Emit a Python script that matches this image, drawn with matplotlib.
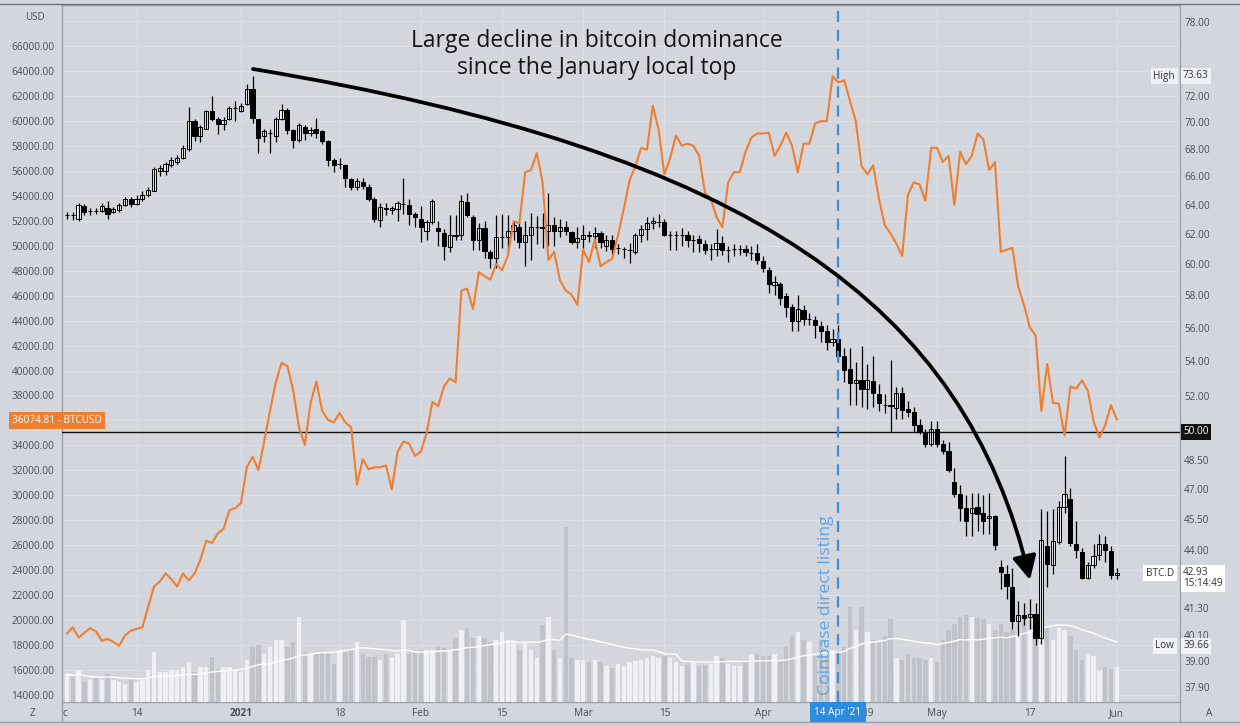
import numpy as np
import pandas as pd
import matplotlib
matplotlib.use("Agg")
import matplotlib.pyplot as plt
import matplotlib.dates as mdates
from matplotlib.path import Path
from matplotlib.patches import FancyArrowPatch
from matplotlib.lines import Line2D
from matplotlib.ticker import NullLocator

plt.rcParams['font.family'] = ['Open Sans', 'DejaVu Sans']

# daily candles 2 Dec 2020 .. 1 Jun 2021
dates = pd.date_range('2020-12-02', '2021-06-01', freq='D')

# BTC.D (bitcoin dominance, %) daily candles
btcd_open = [
    63.28, 63.30, 63.00, 63.91, 63.55, 63.56, 63.56, 63.79, 63.50, 63.62,
    63.99, 64.41, 64.07, 64.36, 64.70, 64.99, 66.38, 66.38, 66.80, 67.04,
    67.33, 67.99, 70.07, 68.99, 69.51, 70.84, 70.22, 69.82, 70.22, 71.10,
    70.84, 71.39, 72.53, 70.22, 68.93, 69.20, 68.99, 70.22, 70.94, 69.39,
    68.68, 69.60, 69.20, 69.45, 69.30, 68.59, 67.19, 66.92, 66.80, 65.79,
    65.21, 65.62, 65.27, 64.41, 62.95, 63.74, 63.62, 63.68, 64.07, 63.99,
    63.34, 63.00, 62.22, 62.78, 62.39, 62.03, 61.13, 61.90, 61.90, 64.19,
    63.14, 61.57, 62.39, 60.81, 60.40, 61.76, 61.76, 62.22, 62.50, 61.49,
    61.90, 62.44, 62.50, 62.22, 62.58, 62.17, 62.44, 62.12, 61.49, 61.68,
    61.90, 61.84, 62.03, 61.21, 61.62, 61.07, 61.02, 60.94, 60.81, 61.90,
    62.31, 62.72, 62.81, 62.78, 61.90, 61.95, 61.95, 61.90, 61.57, 61.68,
    61.35, 61.02, 61.02, 61.40, 60.94, 61.02, 61.02, 61.02, 60.75, 60.75,
    60.21, 59.60, 58.64, 58.69, 57.96, 57.27, 56.39, 57.10, 56.52, 56.47,
    56.09, 55.77, 55.16, 55.33, 54.31, 53.54, 52.72, 52.88, 52.41, 52.84,
    52.11, 51.49, 51.49, 51.33, 52.18, 51.27, 51.11, 50.37, 50.03, 49.33,
    50.14, 49.33, 48.98, 47.34, 46.77, 46.03, 45.78, 46.10, 45.78, 45.54,
    45.63, 43.17, 42.88, 42.28, 40.72, 40.99, 40.90, 41.02, 40.00, 44.16,
    43.26, 44.39, 46.10, 46.50, 44.29, 43.90, 42.69, 43.26, 43.77, 44.29,
    43.96, 42.81,
]
btcd_high = [
    63.50, 63.50, 64.13, 64.07, 63.79, 63.75, 64.13, 64.27, 63.85, 64.13,
    64.56, 64.56, 64.70, 64.93, 65.27, 66.68, 66.80, 67.04, 67.39, 67.57,
    68.29, 71.16, 70.22, 69.76, 70.94, 72.00, 70.38, 70.38, 71.26, 71.64,
    71.48, 72.92, 73.63, 70.25, 69.45, 69.45, 70.38, 71.39, 71.07, 69.45,
    69.91, 69.76, 69.60, 70.32, 69.39, 68.68, 67.33, 67.33, 66.89, 65.85,
    65.85, 65.85, 65.42, 64.56, 64.13, 64.13, 63.91, 64.27, 65.91, 64.41,
    63.50, 63.91, 62.95, 64.41, 62.86, 62.31, 63.28, 63.28, 64.70, 64.85,
    63.28, 62.72, 62.86, 60.94, 63.28, 63.34, 63.28, 62.86, 62.86, 62.86,
    63.42, 63.22, 63.42, 64.85, 63.14, 63.00, 62.86, 62.17, 62.44, 62.58,
    62.17, 62.50, 62.22, 61.90, 61.90, 61.35, 61.15, 61.40, 62.03, 62.58,
    63.14, 63.14, 63.34, 63.00, 62.22, 62.17, 62.39, 62.17, 61.90, 61.90,
    61.62, 61.35, 62.31, 61.84, 61.21, 61.35, 61.29, 61.29, 61.21, 61.35,
    60.54, 59.79, 59.21, 58.82, 58.17, 57.45, 58.04, 57.40, 56.89, 56.70,
    56.39, 56.19, 55.89, 56.14, 54.79, 54.79, 53.95, 54.91, 53.83, 54.31,
    52.65, 52.11, 54.07, 52.53, 52.53, 51.72, 51.38, 50.70, 50.14, 50.59,
    50.59, 49.59, 49.48, 48.07, 47.23, 46.71, 46.81, 46.81, 46.71, 46.81,
    45.69, 43.51, 43.26, 43.13, 41.62, 41.53, 41.72, 41.53, 45.99, 45.89,
    45.99, 46.40, 48.72, 47.06, 45.38, 44.10, 43.42, 44.29, 44.74, 44.68,
    44.19, 43.13,
]
btcd_low = [
    63.00, 62.95, 62.86, 63.28, 63.28, 63.35, 63.50, 63.00, 63.42, 63.50,
    63.91, 63.85, 63.99, 64.27, 64.56, 64.93, 66.00, 66.09, 66.68, 66.89,
    67.27, 67.87, 68.59, 68.53, 69.45, 70.07, 69.14, 69.39, 70.13, 70.07,
    70.75, 71.32, 69.91, 67.69, 68.53, 67.69, 68.53, 70.13, 69.14, 68.08,
    68.53, 68.68, 68.99, 68.83, 68.38, 66.74, 66.30, 66.50, 65.21, 65.05,
    65.05, 65.12, 64.27, 62.78, 62.50, 63.28, 63.34, 62.86, 63.34, 62.58,
    62.44, 61.49, 61.62, 62.70, 61.21, 60.27, 60.81, 61.62, 61.62, 63.14,
    60.94, 60.94, 60.40, 59.74, 59.74, 61.07, 60.81, 61.62, 61.07, 59.87,
    60.27, 61.35, 61.07, 61.21, 61.21, 61.76, 61.90, 61.35, 61.07, 61.07,
    61.49, 61.07, 61.07, 60.86, 60.67, 60.67, 60.40, 60.05, 60.67, 61.49,
    61.62, 62.31, 62.44, 61.84, 60.94, 60.94, 61.21, 61.13, 60.81, 60.81,
    60.67, 60.27, 60.54, 60.59, 60.13, 60.54, 60.59, 60.54, 60.27, 60.00,
    59.47, 58.17, 58.04, 57.40, 56.65, 55.77, 55.77, 56.14, 56.14, 55.40,
    55.16, 54.67, 54.91, 53.95, 52.77, 51.49, 51.49, 51.38, 51.27, 51.38,
    51.15, 51.04, 50.03, 50.70, 50.70, 50.82, 50.03, 49.92, 49.20, 49.26,
    49.20, 48.82, 47.87, 46.61, 45.38, 44.68, 44.68, 44.89, 44.78, 44.78,
    44.00, 42.18, 41.72, 40.36, 40.09, 40.54, 40.36, 39.66, 39.73, 42.28,
    42.84, 44.29, 45.78, 44.19, 43.61, 42.65, 42.65, 43.13, 43.51, 43.42,
    42.62, 42.65,
]
btcd_close = [
    63.30, 63.28, 63.99, 63.50, 63.56, 63.55, 63.91, 63.34, 63.70, 63.99,
    64.36, 64.07, 64.41, 64.70, 65.05, 66.50, 66.62, 66.86, 67.19, 67.33,
    68.05, 70.07, 68.99, 69.60, 70.84, 70.22, 69.82, 70.16, 71.07, 71.10,
    71.26, 72.53, 70.29, 68.83, 69.30, 69.20, 70.22, 70.94, 69.39, 68.68,
    69.76, 69.20, 69.39, 69.20, 68.59, 67.19, 66.80, 66.92, 65.85, 65.27,
    65.68, 65.33, 64.41, 63.00, 63.85, 63.70, 63.79, 64.13, 64.07, 63.34,
    63.14, 62.44, 62.78, 64.27, 62.17, 61.21, 61.90, 61.84, 64.27, 63.28,
    61.62, 62.39, 60.86, 60.40, 61.76, 61.76, 62.22, 62.58, 61.49, 61.95,
    62.44, 62.44, 62.39, 62.58, 62.17, 62.44, 62.22, 61.49, 61.71, 61.90,
    61.84, 62.03, 61.49, 61.62, 61.02, 61.07, 61.02, 60.94, 61.90, 62.31,
    62.72, 62.86, 62.81, 61.95, 61.90, 61.95, 61.95, 61.57, 61.57, 61.40,
    60.94, 61.02, 61.40, 60.94, 60.94, 61.02, 61.02, 60.81, 60.75, 60.27,
    59.74, 58.69, 58.82, 57.86, 57.27, 56.39, 57.15, 56.52, 56.52, 56.14,
    55.77, 55.16, 55.33, 54.31, 53.47, 52.72, 52.93, 52.41, 52.88, 52.18,
    51.60, 51.47, 51.42, 52.18, 51.22, 51.11, 50.37, 50.03, 49.33, 50.14,
    49.33, 48.98, 47.97, 46.77, 46.03, 45.42, 46.03, 45.75, 45.38, 45.63,
    44.23, 42.94, 42.31, 40.72, 40.99, 40.84, 41.02, 40.00, 44.49, 43.32,
    44.43, 46.10, 46.77, 44.35, 44.00, 42.69, 43.26, 43.71, 44.29, 44.00,
    42.81, 42.93,
]

# BTCUSD daily close (left scale)
btcusd = [
    18928, 19425, 18600, 19000, 19353, 19096, 18343, 18503, 18250, 17950,
    18768, 19160, 19300, 19425, 21059, 22694, 23087, 23736, 23279, 22694,
    23736, 23183, 23736, 24818, 26356, 26188, 26941, 27334, 28808, 28968,
    29393, 32246, 33095, 32013, 34305, 36757, 39049, 40611, 40355, 38392,
    35451, 34041, 37406, 39113, 36757, 36036, 35843, 36589, 35843, 35451,
    30867, 32895, 32077, 32246, 32246, 32406, 30475, 33488, 34305, 34137,
    33159, 33488, 34954, 37478, 37150, 38720, 39370, 39049, 46405, 46565,
    44930, 47879, 47550, 47286, 48528, 48039, 49185, 51966, 51797, 55892,
    56052, 57422, 55075, 48857, 49514, 47222, 46405, 46076, 45259, 49674,
    48696, 50491, 48368, 48696, 48953, 50820, 52943, 55235, 56381, 57847,
    57687, 61221, 59322, 55724, 57030, 58833, 58015, 58176, 58015, 57198,
    54249, 53761, 52294, 51477, 55075, 55892, 55892, 57527, 58664, 58993,
    58993, 59057, 57198, 58015, 59057, 58015, 55892, 58176, 58176, 59810,
    59979, 59979, 63577, 63088, 63248, 61613, 59979, 56381, 55724, 56445,
    53761, 51637, 50980, 50163, 49185, 54089, 55075, 54906, 53600, 57847,
    57847, 56709, 57198, 53272, 57527, 56541, 57198, 58993, 58504, 56052,
    56709, 49514, 49674, 49834, 46733, 45259, 43464, 42807, 36757, 40515,
    37406, 37342, 34794, 38720, 38552, 39209, 38392, 35940, 34626, 35611,
    37246, 36074.81,
]

# volume (relative units)
volume = [
    28, 25, 32, 20, 22, 24, 22, 28, 22, 20,
    18, 22, 20, 22, 32, 50, 30, 30, 32, 32,
    35, 40, 30, 35, 35, 45, 33, 35, 35, 32,
    30, 42, 55, 57, 48, 55, 62, 62, 55, 60,
    85, 50, 48, 48, 50, 48, 38, 52, 50, 52,
    60, 48, 45, 45, 42, 48, 45, 48, 82, 48,
    50, 52, 52, 52, 56, 54, 52, 64, 72, 74,
    64, 66, 64, 60, 62, 70, 62, 60, 52, 60,
    52, 44, 77, 85, 52, 44, 175, 44, 42, 42,
    40, 42, 40, 36, 34, 38, 36, 40, 41, 42,
    44, 46, 44, 46, 44, 40, 36, 37, 40, 36,
    37, 38, 46, 44, 38, 36, 36, 40, 48, 48,
    46, 46, 48, 42, 56, 66, 70, 62, 60, 46,
    62, 44, 52, 48, 56, 95, 72, 95, 70, 62,
    60, 66, 83, 44, 42, 48, 44, 44, 42, 44,
    40, 62, 72, 78, 85, 87, 85, 84, 83, 78,
    72, 78, 70, 72, 66, 83, 72, 78, 86, 74,
    62, 74, 72, 66, 52, 42, 48, 46, 31, 35,
    33, 35,
]

usd_ticks = list(range(14000, 70000, 2000))
dom_ticks = [78, 74, 72, 70, 68, 66, 64, 62, 60, 58, 56, 54, 52, 50,
             48.5, 47, 45.5, 44, 41.3, 40.1, 39, 37.9]
date_ticks = ['2020-12-14', '2021-01-01', '2021-01-18', '2021-02-01', '2021-02-15',
              '2021-03-01', '2021-03-15', '2021-04-01', '2021-04-19', '2021-05-01',
              '2021-05-17', '2021-06-01']
date_labels = ['14', '2021', '18', 'Feb', '15', 'Mar', '15', 'Apr', '19', 'May', '17', 'Jun']

BG = '#d3d6dd'
GRID = '#dcdfe5'
TXT = '#4a4e57'
ORANGE = '#ef7f30'
EDGE = '#9a9ea6'

W, H = 1240, 725
def fx(px):
    return px / W
def fy(py):
    return 1 - py / H

fig = plt.figure(figsize=(W / 100, H / 100), dpi=100, facecolor=BG)
ax = fig.add_axes([fx(62), fy(702), fx(1180) - fx(62), fy(5) - fy(702)])
ax.set_facecolor(BG)
ax_v = ax.twinx()
ax_r = ax.twinx()
ax_o = ax.twinx()
for i, a in enumerate([ax, ax_v, ax_r, ax_o]):
    a.set_zorder(i)
for a in [ax_v, ax_r, ax_o]:
    a.patch.set_visible(False)
    for s in a.spines.values():
        s.set_visible(False)
for s in ax.spines.values():
    s.set_color(EDGE)
    s.set_linewidth(1)

xs = mdates.date2num(dates.to_pydatetime())
jan1 = mdates.date2num(pd.Timestamp('2021-01-01').to_pydatetime())
ax.set_xlim(jan1 - 30.86, jan1 + 161.9)

# left scale: BTCUSD (labels hidden behind the "USD" and price boxes are left blank)
hidden_usd = {68000, 36000}
ax.set_ylim(13439, 69288)
ax.set_yticks(usd_ticks, labels=['' if v in hidden_usd else f'{v:.2f}' for v in usd_ticks])
ax.tick_params(axis='y', length=0, pad=5.5, labelsize=7.2, labelcolor=TXT)
ax.set_xticks(mdates.date2num(pd.to_datetime(date_ticks).to_pydatetime()), labels=date_labels)
ax.tick_params(axis='x', length=0, pad=4.5, labelsize=7.2, labelcolor=TXT)
for lbl in ax.get_xticklabels():
    if lbl.get_text() == '2021':
        lbl.set_fontweight('bold')
ax.grid(True, color=GRID, lw=0.8)
ax.set_axisbelow(True)

# volume
o = np.array(btcd_open)
h = np.array(btcd_high)
l = np.array(btcd_low)
c = np.array(btcd_close)
up = c >= o
vol_ma = pd.Series(volume).rolling(20, min_periods=1).mean()
ax_v.set_ylim(0, 697)
ax_v.bar(xs, volume, width=0.78, color=np.where(up, '#eef0f3', '#bfc2c9'), linewidth=0)
ax_v.plot(xs, vol_ma, color='white', lw=1)
ax_v.set_yticks([])
ax_v.tick_params(right=False, labelright=False)

# candles: BTC.D on right log scale
hidden_dom = {74, 50}
ax_r.set_yscale('log')
ax_r.set_ylim(37.30, 79.49)
ax_r.vlines(xs, l, h, colors='black', lw=0.9)
ax_r.bar(xs, np.abs(c - o), bottom=np.minimum(o, c), width=0.72,
         color=np.where(up, 'white', 'black'), edgecolor='black', linewidth=0.7)
ax_r.set_yticks(dom_ticks, labels=['' if v in hidden_dom else f'{v:.2f}' for v in dom_ticks])
ax_r.yaxis.set_minor_locator(NullLocator())
ax_r.tick_params(axis='y', which='both', length=0, pad=3, labelsize=7.2, labelcolor=TXT)
ax_r.axhline(50, color='#111111', lw=1)

# BTCUSD line on top
ax_o.set_ylim(ax.get_ylim())
ax_o.plot(xs, btcusd, color=ORANGE, lw=1.5)
ax_o.set_yticks([])
ax_o.tick_params(right=False, labelright=False)
apr14 = mdates.date2num(pd.Timestamp('2021-04-14').to_pydatetime())
ax_o.axvline(apr14, color='#3a8fdf', lw=1.6, dashes=(5, 3.5))

# annotations
fig.text(fx(597), fy(41), 'Large decline in bitcoin dominance', ha='center', va='center',
         fontsize=16.5, color='#151515', zorder=10)
fig.text(fx(597), fy(68), 'since the January local top', ha='center', va='center',
         fontsize=16.5, color='#151515', zorder=10)
fig.text(fx(826), fy(605), 'Coinbase direct listing', rotation=90, ha='center', va='center',
         fontsize=12.6, color='#4b9be6', alpha=0.85, zorder=10)

verts = [(fx(253), fy(69)), (fx(753), fy(152)), (fx(965), fy(305)), (fx(1030), fy(580))]
arc = Path(verts, [Path.MOVETO, Path.CURVE4, Path.CURVE4, Path.CURVE4])
arrow = FancyArrowPatch(path=arc, arrowstyle='-|>,head_length=0.9,head_width=0.45',
                        mutation_scale=16, lw=2.7, color='black',
                        transform=fig.transFigure, zorder=10)
fig.add_artist(arrow)

# price / scale labels
fig.text(fx(35), fy(18), 'USD', ha='center', va='center', fontsize=7, color=TXT, zorder=10)
fig.text(fx(12), fy(420), '36074.81 - BTCUSD', ha='left', va='center', fontsize=7.2, color='white',
         zorder=10, bbox=dict(boxstyle='square,pad=0.3', fc=ORANGE, ec='none'))
fig.text(fx(1183), fy(432), '50.00', ha='left', va='center', fontsize=7.2, color='white', zorder=10,
         bbox=dict(boxstyle='square,pad=0.25', fc='#111111', ec='none'))
box_light = dict(boxstyle='square,pad=0.25', fc='#eef2f7', ec='none')
box_white = dict(boxstyle='square,pad=0.25', fc='white', ec='none')
fig.text(fx(1175), fy(76), 'High', ha='right', va='center', fontsize=7.2, color='#333333',
         zorder=10, bbox=box_light)
fig.text(fx(1183), fy(76), '73.63', ha='left', va='center', fontsize=7.2, color='#333333',
         zorder=10, bbox=box_light)
fig.text(fx(1174), fy(573), 'BTC.D', ha='right', va='center', fontsize=7.2, color='#333333',
         zorder=10, bbox=box_white)
fig.text(fx(1183), fy(578), '42.93\n15:14:49', ha='left', va='center', fontsize=7.2,
         color='#333333', linespacing=1.0, zorder=10, bbox=box_white)
fig.text(fx(1174), fy(646), 'Low', ha='right', va='center', fontsize=7.2, color='#333333',
         zorder=10, bbox=box_light)
fig.text(fx(1183), fy(646), '39.66', ha='left', va='center', fontsize=7.2, color='#333333',
         zorder=10, bbox=box_light)
fig.text(fx(838), fy(712), "14 Apr '21", ha='center', va='center', fontsize=7.2, color='white',
         zorder=10, bbox=dict(boxstyle='square,pad=0.45', fc='#2d8ce0', ec='none'))
fig.text(fx(65), fy(713), 'c', ha='center', va='center', fontsize=7.2, color=TXT, zorder=10)
fig.text(fx(33), fy(713), 'Z', ha='center', va='center', fontsize=7.2, color=TXT, zorder=10)
fig.text(fx(1209), fy(713), 'A', ha='center', va='center', fontsize=7.2, color=TXT, zorder=10)

# frame lines of the screenshot
for x0, y0, x1, y1, col in [(0, 4, 1240, 4, '#6f737b'), (0, 722, 1240, 722, EDGE),
                            (62, 702, 62, 722, EDGE), (1180, 702, 1180, 722, EDGE)]:
    fig.add_artist(Line2D([fx(x0), fx(x1)], [fy(y0), fy(y1)], transform=fig.transFigure,
                          color=col, lw=1, zorder=9))

fig.savefig('out.png', dpi=100, facecolor=BG)
